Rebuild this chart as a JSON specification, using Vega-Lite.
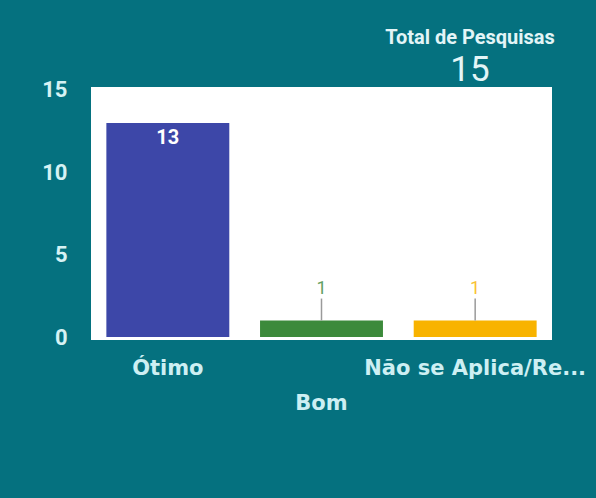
{
  "$schema": "https://vega.github.io/schema/vega-lite/v6.json",
  "width": 461,
  "height": 253,
  "autosize": {"type": "none"},
  "padding": {"left": 91, "top": 87, "right": 44, "bottom": 158},
  "background": "#05717f",
  "config": {
    "view": {"fill": "white", "stroke": null}
  },
  "title": {
    "text": "Total de Pesquisas",
    "subtitle": "15",
    "anchor": "end",
    "frame": "group",
    "align": "center",
    "dx": -82,
    "font": "Roboto",
    "fontSize": 20,
    "fontWeight": "bold",
    "color": "#e3f5f7",
    "subtitleFont": "Roboto",
    "subtitleFontSize": 35,
    "subtitleFontWeight": "normal",
    "subtitleColor": "#e3f5f7",
    "subtitlePadding": 5,
    "offset": -9
  },
  "data": {
    "values": [
      {"categoria": "Ótimo", "total": 13},
      {"categoria": "Bom", "total": 1},
      {"categoria": "Não se Aplica/Recusou", "total": 1}
    ]
  },
  "encoding": {
    "x": {
      "field": "categoria",
      "type": "nominal",
      "sort": null,
      "scale": {"paddingInner": 0.2, "paddingOuter": 0.1},
      "axis": {
        "title": null,
        "domain": false,
        "ticks": false,
        "tickSize": 0,
        "labelAngle": 0,
        "labelFont": "DejaVu Sans",
        "labelFontWeight": "bold",
        "labelFontSize": 21,
        "labelColor": "#cdeff3",
        "labelLimit": 400,
        "labelBaseline": "top",
        "labelOverlap": false,
        "labelExpr": "length(datum.label) > 16 ? slice(datum.label, 0, 16) + '...' : datum.label",
        "labelPadding": {"condition": {"test": "datum.value === 'Bom'", "value": 52}, "value": 17}
      }
    },
    "y": {
      "field": "total",
      "type": "quantitative",
      "scale": {"domain": [-0.18, 15.18], "nice": false, "zero": false},
      "axis": {
        "title": null,
        "domain": false,
        "ticks": false,
        "tickSize": 0,
        "grid": false,
        "values": [0, 5, 10, 15],
        "labelFont": "Roboto",
        "labelFontWeight": "bold",
        "labelFontSize": 22,
        "labelColor": "#d6f2f4",
        "labelPadding": 24
      }
    },
    "color": {
      "field": "categoria",
      "type": "nominal",
      "sort": null,
      "legend": null,
      "scale": {
        "domain": ["Ótimo", "Bom", "Não se Aplica/Recusou"],
        "range": ["#3d47a8", "#3c8a3b", "#f8b300"]
      }
    }
  },
  "layer": [
    {
      "mark": {"type": "bar", "y2": {"expr": "scale('y', 0)"}}
    },
    {
      "transform": [{"filter": "datum.total >= 5"}],
      "mark": {"type": "text", "font": "Roboto", "fontWeight": "bold", "fontSize": 20, "baseline": "middle", "dy": 15, "color": "white"},
      "encoding": {"text": {"field": "total", "type": "quantitative"}, "color": {"value": "white"}}
    },
    {
      "transform": [{"filter": "datum.total < 5"}],
      "mark": {"type": "rule", "stroke": "#9a9a9a", "strokeWidth": 1.5, "y2Offset": -22},
      "encoding": {"y2": {"field": "total"}, "color": {"value": "#9a9a9a"}}
    },
    {
      "transform": [{"filter": "datum.total < 5"}],
      "mark": {"type": "text", "font": "Roboto", "fontSize": 18, "baseline": "middle", "dy": -32, "opacity": 0.8},
      "encoding": {"text": {"field": "total", "type": "quantitative"}}
    }
  ]
}
